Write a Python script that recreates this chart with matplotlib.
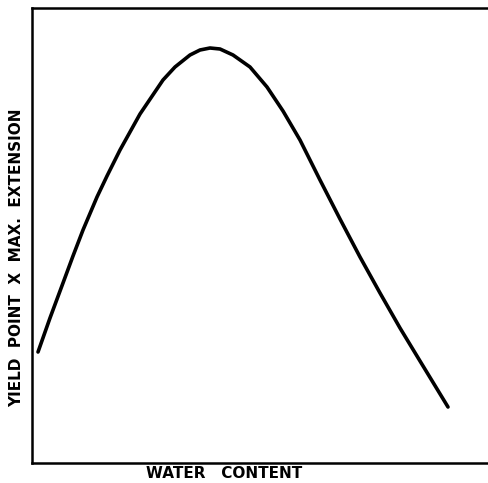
import matplotlib
matplotlib.use("Agg")
import matplotlib.pyplot as plt

# curve (arbitrary units: x 0-458, y 0-455)
water = [6, 18, 31, 41, 51, 65, 75, 88, 108, 131, 143, 158, 168, 178, 188, 201,
         218, 235, 251, 268, 288, 308, 328, 348, 368, 388, 416]
yield_ext = [111, 145, 180, 207, 233, 266, 287, 313, 349, 383, 396, 408, 413, 415, 414, 408,
             396, 376, 352, 323, 283, 244, 206, 170, 135, 102, 56]

W, H = 488, 483
fig = plt.figure(figsize=(W/100, H/100), dpi=100)
ax = fig.add_axes([32/W, (H-463)/H, 458/W, 455/H])

ax.plot(water, yield_ext, color="black", lw=2.6, solid_capstyle="round",
		solid_joinstyle="round")

ax.set_xlim(0, 458)
ax.set_ylim(0, 455)
ax.set_xticks([]); ax.set_yticks([])
ax.spines["right"].set_visible(False)
for s in ["left", "top", "bottom"]:
	ax.spines[s].set_linewidth(1.8)

fig.text(224/W, 1-474/H, "WATER   CONTENT", ha="center", va="center",
		 fontsize=11, fontweight="bold")
fig.text(17/W, 1-258/H, "YIELD  POINT  X  MAX.  EXTENSION", ha="center", va="center",
		 rotation=90, fontsize=11, fontweight="bold")

fig.savefig("out.png", dpi=100)
